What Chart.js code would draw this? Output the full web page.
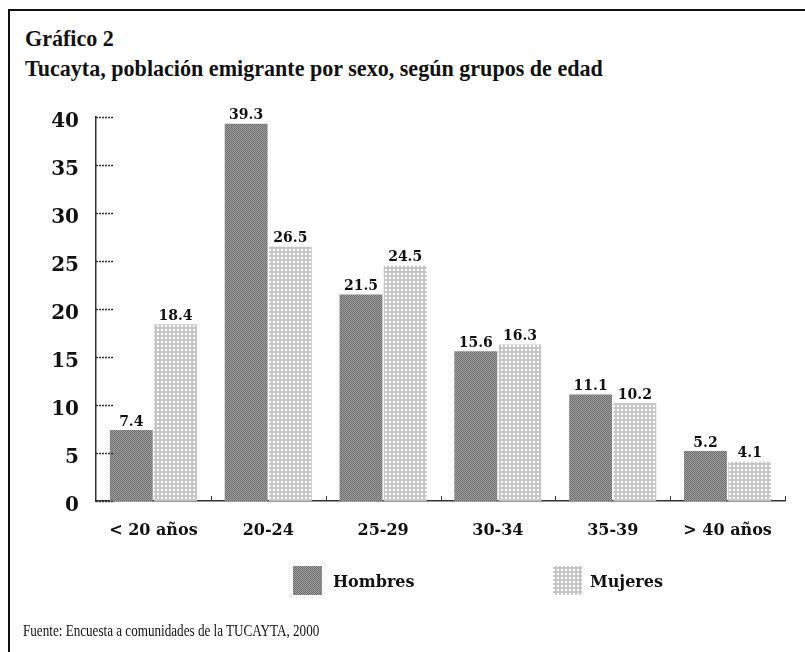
<!DOCTYPE html>
<html><head><meta charset="utf-8">
<script src="https://cdn.jsdelivr.net/npm/chart.js@4"></script>
<style>
html,body{margin:0;padding:0;background:#fff;}
#wrap{position:relative;width:805px;height:652px;overflow:hidden;background:#fff;}
#frame{position:absolute;left:8px;top:9px;width:830px;height:720px;border:2px solid #111;box-sizing:border-box;}
.t{position:absolute;left:25px;font-family:"Liberation Serif",serif;font-weight:bold;font-size:24px;line-height:24px;color:#111;white-space:nowrap;transform:scaleX(0.92);transform-origin:0 0;}
#src{position:absolute;left:23px;top:623px;font-family:"Liberation Serif",serif;font-size:16px;line-height:16px;color:#111;white-space:nowrap;transform:scaleX(0.82);transform-origin:0 0;}
canvas{position:absolute;left:0;top:0;}
</style></head>
<body><div id="wrap">
<div id="frame"></div>
<div class="t" style="top:26px">Gráfico 2</div>
<div class="t" style="top:56px">Tucayta, población emigrante por sexo, según grupos de edad</div>
<canvas id="c" width="805" height="652"></canvas>
<div id="src">Fuente: Encuesta a comunidades de la TUCAYTA, 2000</div>
</div>
<script>
const categories = ['< 20 años','20-24','25-29','30-34','35-39','> 40 años'];
const hombres = [7.4, 39.3, 21.5, 15.6, 11.1, 5.2];
const mujeres = [18.4, 26.5, 24.5, 16.3, 10.2, 4.1];
const yTicks = [0, 5, 10, 15, 20, 25, 30, 35, 40];
const seriesNames = ['Hombres', 'Mujeres'];

const canvas = document.getElementById('c');
const ctx0 = canvas.getContext('2d');
function makePattern(kind){
  const c = document.createElement('canvas');
  const x = c.getContext('2d');
  if(kind === 'h'){
    c.width = 2; c.height = 2;
    x.fillStyle = '#a2a2a2'; x.fillRect(0,0,2,2);
    x.fillStyle = '#6a6a6a'; x.fillRect(0,0,1,1); x.fillRect(1,1,1,1);
  } else {
    c.width = 4; c.height = 4;
    x.fillStyle = '#c6c6c6'; x.fillRect(0,0,4,4);
    x.fillStyle = '#ffffff'; x.fillRect(1,1,2,2);
  }
  return ctx0.createPattern(c, 'repeat');
}
const patH = makePattern('h');
const patM = makePattern('m');

const extras = {
  id: 'extras',
  afterDatasetsDraw(chart){
    const {ctx} = chart;
    ctx.save();
    ctx.fillStyle = '#111';
    ctx.font = 'bold 14px "DejaVu Serif"';
    ctx.textAlign = 'center';
    ctx.textBaseline = 'bottom';
    chart.data.datasets.forEach((ds, di) => {
      chart.getDatasetMeta(di).data.forEach((bar, i) => {
        ctx.fillText(ds.data[i].toFixed(1), bar.x, bar.y - 1);
      });
    });
    ctx.restore();
  },
  afterDraw(chart){
    const {ctx, chartArea, scales:{x, y}} = chart;
    ctx.save();
    ctx.strokeStyle = '#333';
    ctx.lineWidth = 1.5;
    ctx.setLineDash([2,1]);
    yTicks.forEach(v => {
      const py = Math.round(y.getPixelForValue(v)) + 0.5;
      ctx.beginPath(); ctx.moveTo(chartArea.left, py); ctx.lineTo(chartArea.left + 17, py); ctx.stroke();
    });
    ctx.setLineDash([]);
    ctx.lineWidth = 1;
    for(let i = 1; i <= categories.length; i++){
      const px = Math.round(x.getPixelForValue(i - 0.5)) + 0.5;
      ctx.beginPath(); ctx.moveTo(px, chartArea.bottom); ctx.lineTo(px, chartArea.bottom - 5); ctx.stroke();
    }
    // legend
    const items = [{x: 293, tx: 333}, {x: 553, tx: 590}];
    chart.data.datasets.forEach((ds, di) => {
      const it = items[di];
      ctx.fillStyle = ds.backgroundColor;
      ctx.fillRect(it.x, 566, 29, 29);
      ctx.fillStyle = '#111';
      ctx.font = 'bold 16px "DejaVu Serif"';
      ctx.textAlign = 'left';
      ctx.textBaseline = 'middle';
      ctx.fillText(ds.label, it.tx, 583);
    });
    ctx.restore();
  }
};

new Chart(canvas, {
  type: 'bar',
  data: {
    labels: categories,
    datasets: [
      {label: seriesNames[0], data: hombres, backgroundColor: patH, borderWidth: 0},
      {label: seriesNames[1], data: mujeres, backgroundColor: patM, borderWidth: 0}
    ]
  },
  options: {
    responsive: false,
    animation: false,
    devicePixelRatio: 1,
    layout: {padding: {top: 117, right: 20, bottom: 0, left: 0}},
    datasets: {bar: {categoryPercentage: 0.77, barPercentage: 0.97}},
    plugins: {legend: {display: false}, tooltip: {enabled: false}, title: {display: false}},
    scales: {
      x: {
        grid: {display: false, drawTicks: false},
        border: {display: true, color: '#333', width: 1.5, dash: [2,1]},
        ticks: {color: '#111', font: {family: '"DejaVu Serif"', weight: 'bold', size: 16}, padding: 20, maxRotation: 0},
        afterFit(s){ s.height = 151; }
      },
      y: {
        min: 0, max: 40,
        afterBuildTicks(s){ s.ticks = yTicks.map(v => ({value: v})); },
        grid: {display: false, drawTicks: false},
        border: {display: true, color: '#333', width: 1.5, dash: [2,1]},
        ticks: {color: '#111', font: {family: '"DejaVu Serif"', weight: 'bold', size: 20}, padding: 17, labelOffset: 5},
        afterFit(s){ s.width = 96; }
      }
    }
  },
  plugins: [extras]
});
</script>
</body></html>
